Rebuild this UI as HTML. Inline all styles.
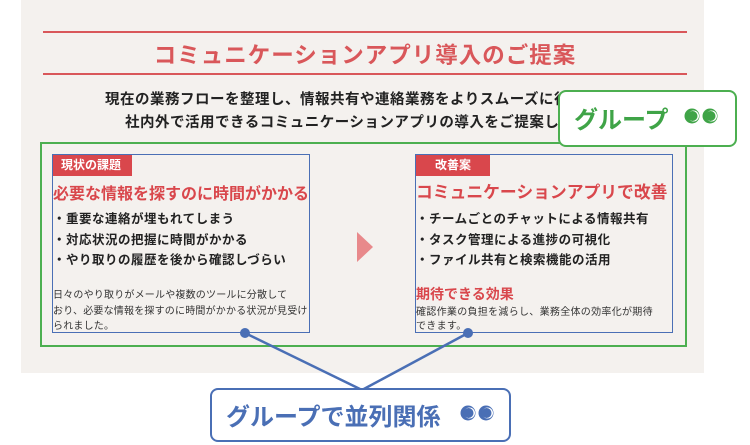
<!DOCTYPE html>
<html><head><meta charset="utf-8"><style>
body{margin:0;width:750px;height:445px;background:#fff;position:relative;overflow:hidden;font-family:"Liberation Sans","Noto Sans CJK JP",sans-serif;}
.a{position:absolute;}
.bg{left:21px;top:0;width:683px;height:373px;background:#f4f1ee;}
.rl{left:43px;width:644px;height:2px;background:#d9575a;}
.t{white-space:nowrap;}
</style></head><body>
<div class="a bg"></div>
<div class="a rl" style="top:31px"></div>
<div class="a rl" style="top:73px"></div>
<div class="a t" style="left:0;width:730px;top:38px;text-align:center;font-size:22.5px;font-weight:bold;color:#d9575a;letter-spacing:1px">コミュニケーションアプリ導入のご提案</div>
<div class="a t" style="left:105px;top:88px;font-size:14.5px;font-weight:bold;color:#222;letter-spacing:0.5px">現在の業務フローを整理し、情報共有や連絡業務をよりスムーズに行</div>
<div class="a t" style="left:125px;top:111px;font-size:14.5px;font-weight:bold;color:#222;letter-spacing:0.5px">社内外で活用できるコミュニケーションアプリの導入をご提案し</div>

<div class="a" style="left:40px;top:142px;width:643px;height:201px;border:2px solid #4caf50;"></div>

<div class="a" style="left:52px;top:154px;width:256px;height:177px;border:1.5px solid #4a6fb5;"></div>
<div class="a t" style="left:53px;top:155px;width:79px;height:21px;background:#d9474c;color:#fff;font-size:12px;font-weight:bold;line-height:21px;text-indent:8px">現状の課題</div>
<div class="a t" style="left:53px;top:180px;font-size:16px;font-weight:bold;color:#d9474c">必要な情報を探すのに時間がかかる</div>
<div class="a t" style="left:53px;top:209px;font-size:12.5px;font-weight:bold;color:#222;line-height:20.5px;letter-spacing:0.5px">・重要な連絡が埋もれてしまう<br>・対応状況の把握に時間がかかる<br>・やり取りの履歴を後から確認しづらい</div>
<div class="a t" style="left:53px;top:288px;font-size:10px;color:#333;line-height:15.5px;letter-spacing:0.2px">日々のやり取りがメールや複数のツールに分散して<br>おり、必要な情報を探すのに時間がかかる状況が見受け<br>られました。</div>

<svg class="a" style="left:355px;top:230px" width="20" height="34"><polygon points="2,2 18,17 2,32" fill="#e8898b"/></svg>

<div class="a" style="left:415px;top:154px;width:256px;height:177px;border:1.5px solid #4a6fb5;"></div>
<div class="a t" style="left:416px;top:155px;width:74px;height:21px;background:#d9474c;color:#fff;font-size:12px;font-weight:bold;line-height:21px;text-align:center">改善案</div>
<div class="a t" style="left:416px;top:179px;font-size:16.8px;font-weight:bold;color:#d9474c">コミュニケーションアプリで改善</div>
<div class="a t" style="left:416px;top:209px;font-size:12.5px;font-weight:bold;color:#222;line-height:20.5px;letter-spacing:0.5px">・チームごとのチャットによる情報共有<br>・タスク管理による進捗の可視化<br>・ファイル共有と検索機能の活用</div>
<div class="a t" style="left:416px;top:284px;font-size:14px;font-weight:bold;color:#d9474c">期待できる効果</div>
<div class="a t" style="left:416px;top:306px;font-size:10px;color:#333;line-height:14px;letter-spacing:0.3px">確認作業の負担を減らし、業務全体の効率化が期待<br>できます。</div>

<svg class="a" style="left:0;top:0" width="750" height="445">
<line x1="245" y1="333" x2="362" y2="390" stroke="#4a6fb5" stroke-width="2.5"/>
<line x1="468" y1="333" x2="362" y2="390" stroke="#4a6fb5" stroke-width="2.5"/>
<circle cx="245" cy="333" r="5" fill="#4a6fb5"/>
<circle cx="468" cy="333" r="5" fill="#4a6fb5"/>
</svg>

<div class="a" style="left:558px;top:90px;width:175px;height:53px;border:2.5px solid #4caf50;border-radius:8px;background:#fff;"></div>
<div class="a t" style="left:574px;top:100px;font-size:24px;font-weight:bold;color:#3fa447">グループ</div>
<svg class="a" style="left:684px;top:106px" width="36" height="20">
<circle cx="8" cy="10" r="7.5" fill="#3fa447"/><circle cx="9.5" cy="10" r="5.5" fill="#fff"/><circle cx="8.5" cy="10" r="5" fill="#3fa447"/>
<circle cx="26" cy="10" r="7.5" fill="#3fa447"/><circle cx="27.5" cy="10" r="5.5" fill="#fff"/><circle cx="26.5" cy="10" r="5" fill="#3fa447"/>
</svg>

<div class="a" style="left:210px;top:388px;width:297px;height:50px;border:2.5px solid #4a6fb5;border-radius:8px;background:#fff;"></div>
<div class="a t" style="left:226px;top:397px;font-size:24px;font-weight:bold;color:#4a6fb5">グループで並列関係</div>
<svg class="a" style="left:460px;top:403px" width="36" height="20">
<circle cx="8" cy="10" r="7.5" fill="#4a6fb5"/><circle cx="9.5" cy="10" r="5.5" fill="#fff"/><circle cx="8.5" cy="10" r="5" fill="#4a6fb5"/>
<circle cx="26" cy="10" r="7.5" fill="#4a6fb5"/><circle cx="27.5" cy="10" r="5.5" fill="#fff"/><circle cx="26.5" cy="10" r="5" fill="#4a6fb5"/>
</svg>
</body></html>
